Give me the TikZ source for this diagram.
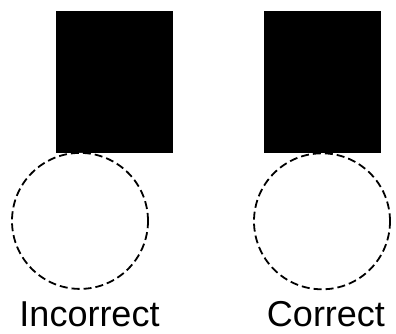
\documentclass[tikz,border=0pt]{standalone}
\usepackage{fontspec}
\setmainfont{Liberation Sans}
\usetikzlibrary{positioning}
\tikzset{
    block/.style={
        rectangle, draw=black, fill=black,
        minimum width=116pt, minimum height=141pt,
        inner sep=0pt, line width=0.8pt,
    },
    ring/.style={
        circle, draw=black, fill=white, dash pattern=on 8pt off 4pt,
        minimum size=136pt, inner sep=0pt, line width=1.8pt,
    },
    caption/.style={
        anchor=base, inner sep=0pt, font=\fontsize{36}{44}\selectfont,
    },
}
\begin{document}
\begin{tikzpicture}[x=1pt, y=-1pt]
    \useasboundingbox (0,0) rectangle (396,333);
    \node[block] (lrect) at (114,81.5) {};
    \node[block] (rrect) at (322,81.5) {};
    \node[ring, anchor=north] (lcirc) at (80,152) {};
    \node[ring, anchor=north] (rcirc) at (rrect.south) {};
    \node[caption] (lcap) at (89.5,326) {Incorrect};
    \node[caption] (rcap) at (326,326) {Correct};
\end{tikzpicture}
\end{document}
